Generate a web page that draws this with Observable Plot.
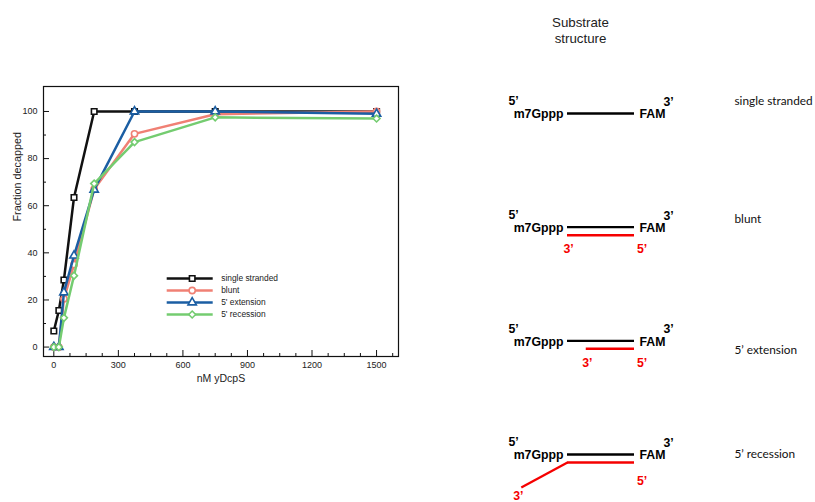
<!DOCTYPE html>
<html><head><meta charset="utf-8">
<script src="https://cdn.jsdelivr.net/npm/d3@7"></script>
<script src="https://cdn.jsdelivr.net/npm/@observablehq/plot@0.6"></script>
<style>
body{margin:0;background:#fff;}
#wrap{position:relative;width:815px;height:502px;overflow:hidden;}
#wrap > *{position:absolute;}
</style>
</head><body><div id="wrap"></div>
<script>
// ---- chart data ----
const conc = [0, 23.4, 46.9, 93.75, 187.5, 375, 750, 1500];
const seriesNames = ["single stranded", "blunt", "5' extension", "5' recession"];
const singleStranded = [6.8, 15.5, 28.5, 63.5, 100, 100, 100, 100];
const blunt = [0, 0, 20.5, 35, 67, 90.5, 98.8, 100];
const extension5 = [0, 0, 23.2, 38.8, 66.8, 100, 100, 99];
const recession5 = [0, 0, 12.4, 30.3, 69.4, 87, 97.5, 97];
const seriesValues = [singleStranded, blunt, extension5, recession5];
const seriesColors = ["#111111", "#f08074", "#1b5ea3", "#74cc70"];
const seriesSymbols = ["square", "circle", "triangle", "diamond2"];
const xMajorTicks = [0, 300, 600, 900, 1200, 1500];
const xMinorTicks = [75, 150, 225, 375, 450, 525, 675, 750, 825, 975, 1050, 1125, 1275, 1350, 1425, 1575];
const yMajorTicks = [0, 20, 40, 60, 80, 100];
const yMinorTicks = [10, 30, 50, 70, 90];

// ---- substrate diagram data ----
const rowIdx = [0, 1, 2, 3];
const rowLabels = ["single stranded", "blunt", "5’ extension", "5’ recession"];
const compRows = [1, 2, 3];           // rows that have a complementary (red) strand
const compStart = [0, 0.28, 0];       // start of complementary strand along top strand (0..1)
const tailRow = [3];                  // 5' recession 3' overhang
const tailEnd = [-0.69];
const tailDrop = [0.22];

const FONT = "'Liberation Sans', Arial, Helvetica, sans-serif";
const wrap = document.getElementById("wrap");

const rows = [];
seriesNames.forEach((s, i) => conc.forEach((c, j) => rows.push({series: s, conc: c, value: seriesValues[i][j]})));

const SYM_R = 3.1;
const seriesMarks = seriesNames.flatMap(s => {
  const d = rows.filter(r => r.series === s);
  return [
    Plot.line(d, {x: "conc", y: "value", stroke: "series", strokeWidth: 2.5}),
    Plot.dot(d, {x: "conc", y: "value", symbol: "series", stroke: "series", fill: "white", r: SYM_R, strokeWidth: 1.6})
  ];
});

const fmt = d3.format("d");
const chart = Plot.plot({
  width: 410, height: 400,
  marginLeft: 43, marginRight: 12, marginTop: 86, marginBottom: 44,
  style: {fontFamily: FONT, background: "transparent"},
  x: {domain: [-48, 1602], axis: null, label: null},
  y: {domain: [-4, 110.6], axis: null, label: null},
  color: {domain: seriesNames, range: seriesColors},
  symbol: {domain: seriesNames, range: seriesSymbols},
  marks: [
    Plot.axisX({ticks: xMajorTicks, tickSize: -6, tickFormat: () => "", label: null, color: "#111"}),
    Plot.axisX({ticks: xMinorTicks, tickSize: -3, tickFormat: () => "", label: null, color: "#111"}),
    Plot.axisX({ticks: xMajorTicks, tickSize: 0, tickPadding: 5, tickFormat: fmt, fontSize: 9, label: null, color: "#222", fontFamily: FONT}),
    Plot.axisY({ticks: yMajorTicks, tickSize: -6, tickFormat: () => "", label: null, color: "#111"}),
    Plot.axisY({ticks: yMinorTicks, tickSize: -3, tickFormat: () => "", label: null, color: "#111"}),
    Plot.axisY({ticks: yMajorTicks, tickSize: 0, tickPadding: 6, tickFormat: fmt, fontSize: 9, label: null, color: "#222", fontFamily: FONT}),
    ...seriesMarks,
    Plot.frame({stroke: "#111", strokeWidth: 1.2}),
    Plot.text(["nM yDcpS"], {frameAnchor: "bottom", dy: 25, fontSize: 10.5, fill: "#222", fontFamily: FONT}),
    Plot.text(["Fraction decapped"], {frameAnchor: "left", dx: -26, rotate: -90, fontSize: 10.8, fill: "#222", fontFamily: FONT})
  ]
});
chart.style.left = "0px"; chart.style.top = "0px";
wrap.appendChild(chart);

// legend inside the chart
const legend = Plot.plot({
  width: 130, height: 56,
  marginLeft: 6.7, marginRight: 77.3, marginTop: 7.7, marginBottom: 12,
  style: {fontFamily: FONT, background: "transparent"},
  x: {domain: [0, 1], axis: null},
  y: {type: "point", domain: seriesNames, padding: 0, axis: null},
  color: {domain: seriesNames, range: seriesColors},
  symbol: {domain: seriesNames, range: seriesSymbols},
  marks: [
    ...seriesNames.flatMap(s => [
      Plot.ruleY([s], {y: d => d, x1: 0, x2: 1, stroke: d => d, strokeWidth: 2.5}),
      Plot.dot([s], {x: 0.543, y: d => d, symbol: d => d, stroke: d => d, fill: "white", r: SYM_R, strokeWidth: 1.6})
    ]),
    Plot.text(seriesNames, {x: 1, y: d => d, text: d => d, dx: 8, textAnchor: "start", fontSize: 8.4, fill: "#222", fontFamily: FONT})
  ]
});
legend.style.left = "160px"; legend.style.top = "270px";
wrap.appendChild(legend);

// substrate structure diagram
const RED = "#f50000";
const bold = {fontWeight: "bold", fontSize: 12.3, fontFamily: FONT};
const rowLabelDy = [-12, -8, 9, 0];
const diagram = Plot.plot({
  width: 325, height: 502,
  marginLeft: 0, marginRight: 0, marginTop: 0, marginBottom: 0,
  style: {fontFamily: FONT, background: "transparent", overflow: "visible"},
  x: {domain: [0, 1], range: [77, 144], axis: null},
  y: {domain: [0, 3], range: [113, 454], axis: null},
  marks: [
    Plot.text(["Substrate\nstructure"], {frameAnchor: "top-left", dx: 90, dy: 15, lineAnchor: "top", lineHeight: 1.22, textAnchor: "middle", fontSize: 13.3, fill: "#222", fontFamily: FONT}),
    // top strand
    Plot.ruleY(rowIdx, {y: d => d, x1: 0, x2: 1, stroke: "#000", strokeWidth: 2.3}),
    // complementary strand
    Plot.ruleY(compRows, {y: d => d, x1: (d, i) => compStart[i], x2: 1, dy: 8, stroke: RED, strokeWidth: 2.5}),
    Plot.link(tailRow, {x1: 0, y1: d => d, x2: (d, i) => tailEnd[i], y2: (d, i) => d + tailDrop[i], dy: 8, stroke: RED, strokeWidth: 2.3}),
    // end labels
    Plot.text(rowIdx, {x: 0, y: d => d, text: () => "5’", dx: -54, dy: -12, ...bold, fill: "#000"}),
    Plot.text(rowIdx, {x: 0, y: d => d, text: () => "m7Gppp", textAnchor: "end", dx: -4, dy: 1, ...bold, fill: "#000"}),
    Plot.text(rowIdx, {x: 1, y: d => d, text: () => "FAM", textAnchor: "start", dx: 5, dy: 1, ...bold, fill: "#000"}),
    Plot.text(rowIdx, {x: 1, y: d => d, text: () => "3’", dx: 34, dy: -11.5, ...bold, fill: "#000"}),
    Plot.text(compRows.slice(0, 2), {x: (d, i) => compStart[i], y: d => d, text: () => "3’", dx: 1, dy: 22, ...bold, fill: RED}),
    Plot.text(compRows.slice(0, 2), {x: 1, y: d => d, text: () => "5’", dx: 7.5, dy: 22, ...bold, fill: RED}),
    Plot.text(tailRow, {x: 1, y: d => d, text: () => "5’", dx: 7.5, dy: 26.5, ...bold, fill: RED}),
    Plot.text(tailRow, {x: (d, i) => tailEnd[i], y: (d, i) => d + tailDrop[i], text: () => "3’", dx: -3, dy: 17, ...bold, fill: RED}),
    // row labels
    ...rowIdx.map(i => Plot.text([i], {x: 1, y: d => d, text: d => rowLabels[d], textAnchor: "start", dx: 100, dy: rowLabelDy[i], fontSize: 11.8, fontFamily: "Lato, 'Open Sans', sans-serif", fill: "#111"}))
  ]
});
diagram.style.left = "490px"; diagram.style.top = "0px";
wrap.appendChild(diagram);
</script>
</body></html>
